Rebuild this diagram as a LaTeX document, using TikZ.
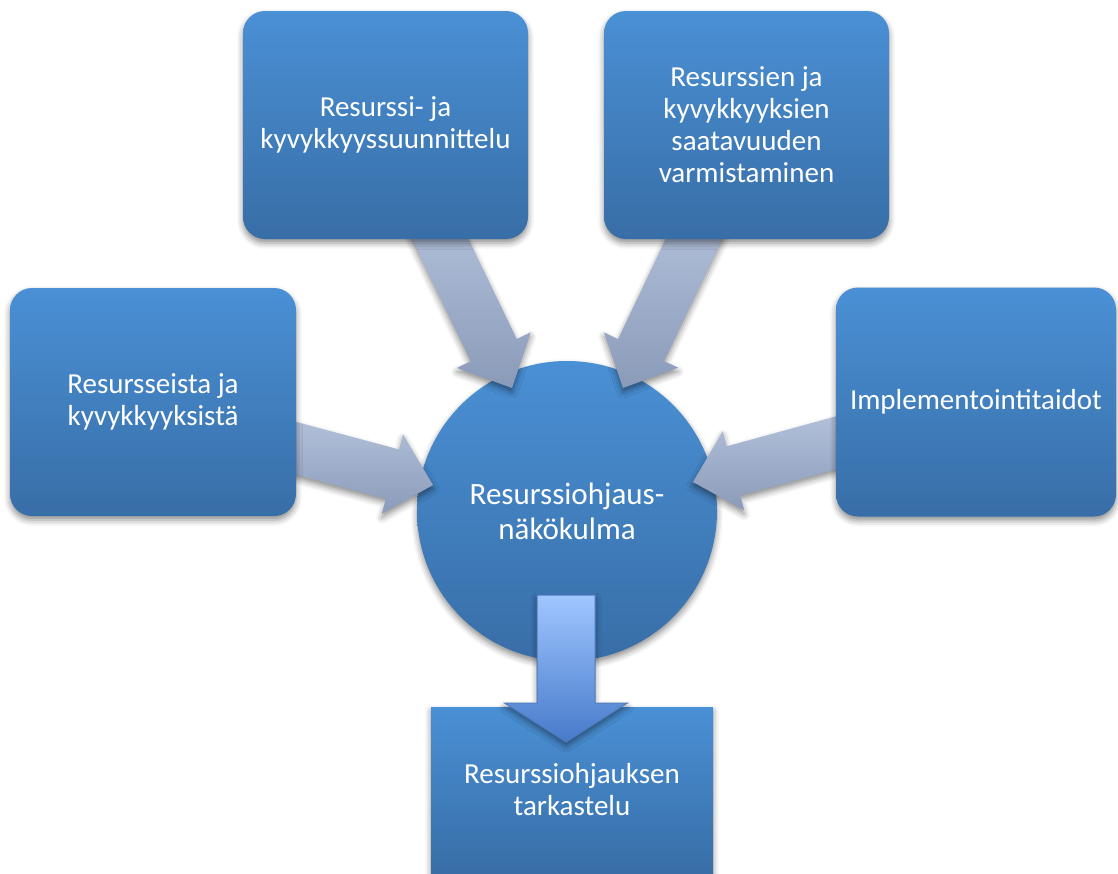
\documentclass[tikz,border=0pt]{standalone}
\usepackage{fontspec}
\setmainfont{Carlito}
\usetikzlibrary{calc,shadows.blur}

\definecolor{boxtop}{RGB}{74,144,213}
\definecolor{boxbot}{RGB}{56,110,167}
\definecolor{arrtop}{RGB}{178,192,218}
\definecolor{arrbot}{RGB}{138,155,185}
\definecolor{downtop}{RGB}{160,198,255}
\definecolor{downbot}{RGB}{70,122,202}
\definecolor{downedge}{RGB}{80,124,190}

\tikzset{
  softshadow/.style={blur shadow={shadow xshift=0pt, shadow yshift=-4pt,
      shadow blur radius=6pt, shadow opacity=45}},
  topic/.style={rectangle, rounded corners=22pt, top color=boxtop,
      bottom color=boxbot, text=white, align=center, inner sep=0pt,
      font=\fontsize{29}{32}\selectfont, softshadow},
  hub/.style={circle, top color=boxtop, bottom color=boxbot, text=white,
      align=center, inner sep=0pt, minimum size=300pt,
      font=\fontsize{31}{35}\selectfont, softshadow},
  result/.style={rectangle, top color=boxtop, bottom color=boxbot,
      text=white, align=center, inner sep=0pt,
      font=\fontsize{29}{32}\selectfont, softshadow},
  feedarrow/.style={top color=arrtop, bottom color=arrbot, softshadow},
  downarrow/.style={top color=downtop, bottom color=downbot,
      draw=downedge, line width=1pt, softshadow},
}

% block arrow: #1 style, #2 tail, #3 tip, #4 shaft half width,
% #5 head half width, #6 head length
\newcommand{\blockarrow}[6]{%
  \coordinate (hb) at ($(#3)!#6!(#2)$);
  \path[#1] ($(#2)!#4!90:(#3)$) -- ($(hb)!#4!90:(#3)$)
    -- ($(hb)!#5!90:(#3)$) -- (#3) -- ($(hb)!#5!-90:(#3)$)
    -- ($(hb)!#4!-90:(#3)$) -- ($(#2)!#4!-90:(#3)$) -- cycle;
}

\begin{document}
\begin{tikzpicture}[x=1pt,y=-1pt]
\useasboundingbox (0,0) rectangle (1118,873);

% central circle
\node[hub] (hubnode) at (567,511) {Resurssiohjaus-\\näkökulma};

% arrow ends
\coordinate (tlTail) at (432,222);
\coordinate (tlTip)  at (512,388);
\coordinate (trTail) at (702,222);
\coordinate (trTip)  at (623,388);
\coordinate (lTail)  at (280,444);
\coordinate (lTip)   at (433,485);
\coordinate (rTail)  at (850,439);
\coordinate (rTip)   at (693,482);
\coordinate (dTail)  at (566,595);
\coordinate (dTip)   at (566,742);

% arrows feeding the circle
\blockarrow{feedarrow}{tlTail}{tlTip}{25.5pt}{41pt}{42pt}
\blockarrow{feedarrow}{trTail}{trTip}{25.5pt}{41pt}{42pt}
\blockarrow{feedarrow}{lTail}{lTip}{25.5pt}{41pt}{42pt}
\blockarrow{feedarrow}{rTail}{rTip}{25.5pt}{41pt}{42pt}

% surrounding boxes
\node[topic, minimum width=286pt, minimum height=228pt] (left) at (153,402)
  {Resursseista ja\\kyvykkyyksistä};
\node[topic, minimum width=285pt, minimum height=228pt] (topleft) at (385.5,125)
  {Resurssi- ja\\kyvykkyyssuunnittelu};
\node[topic, minimum width=285pt, minimum height=228pt] (topright) at (746.5,125)
  {Resurssien ja\\kyvykkyyksien\\saatavuuden\\varmistaminen};
\node[topic, minimum width=280pt, minimum height=229pt] (right) at (976,402)
  {Implementointitaidot};

% outcome box and arrow
\node[result, minimum width=282pt, minimum height=166pt] (outcome) at (572,790)
  {Resurssiohjauksen\\tarkastelu};
\blockarrow{downarrow}{dTail}{dTip}{29pt}{61.5pt}{39pt}
\end{tikzpicture}
\end{document}
